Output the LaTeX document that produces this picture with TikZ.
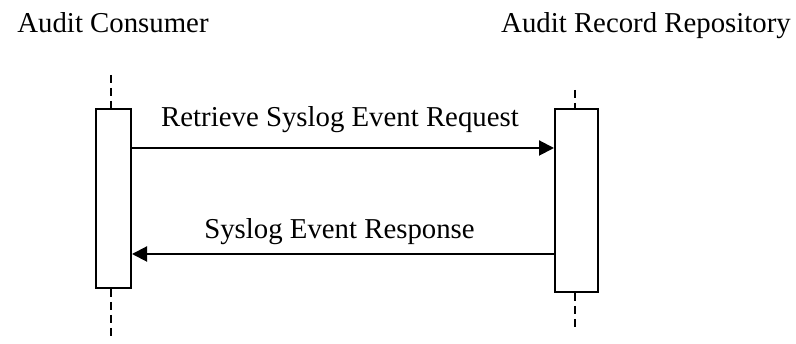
\documentclass[tikz,border=0pt]{standalone}
\usepackage{fontspec}
\setmainfont{Liberation Serif}
\usetikzlibrary{arrows.meta}
\begin{document}
\begin{tikzpicture}[x=1pt,y=1pt,
  lbl/.style={font=\fontsize{28.8}{33}\selectfont, inner sep=0pt, anchor=base},
  actbox/.style={draw=black, line width=2pt, fill=white, inner sep=0pt},
  life/.style={line width=2pt, dash pattern=on 8pt off 5pt},
  msg/.style={line width=2pt, -{Triangle[length=15pt,width=15pt]}}]
\useasboundingbox (0,0) rectangle (796,344);
% headers
\node[lbl] (hA) at (113,311) {Audit Consumer};
\node[lbl] (hB) at (646,311) {Audit Record Repository};
% lifeline coordinates
\coordinate (lAt) at (111,269);
\coordinate (lAb) at (111,4);
\coordinate (lBt) at (575,254);
\coordinate (lBb) at (575,14);
% activation boxes
\node[actbox, minimum width=35pt, minimum height=179pt] (A) at (113.5,145.5) {};
\node[actbox, minimum width=43pt, minimum height=183pt] (B) at (576.5,143.5) {};
\draw[life] (lAt) -- (lAt |- A.north);
\draw[life] (lAt |- A.south) -- (lAb);
\draw[life] (lBt) -- (lBt |- B.north);
\draw[life] (lBt |- B.south) -- (lBb);
% messages
\coordinate (m1) at (0,196);
\coordinate (m2) at (0,90);
\draw[msg] (A.east |- m1) -- (B.west |- m1);
\draw[msg] (B.west |- m2) -- (A.east |- m2);
\node[lbl] (t1) at (340,217) {Retrieve Syslog Event Request};
\node[lbl] (t2) at (339.5,105) {Syslog Event Response};
\end{tikzpicture}
\end{document}
